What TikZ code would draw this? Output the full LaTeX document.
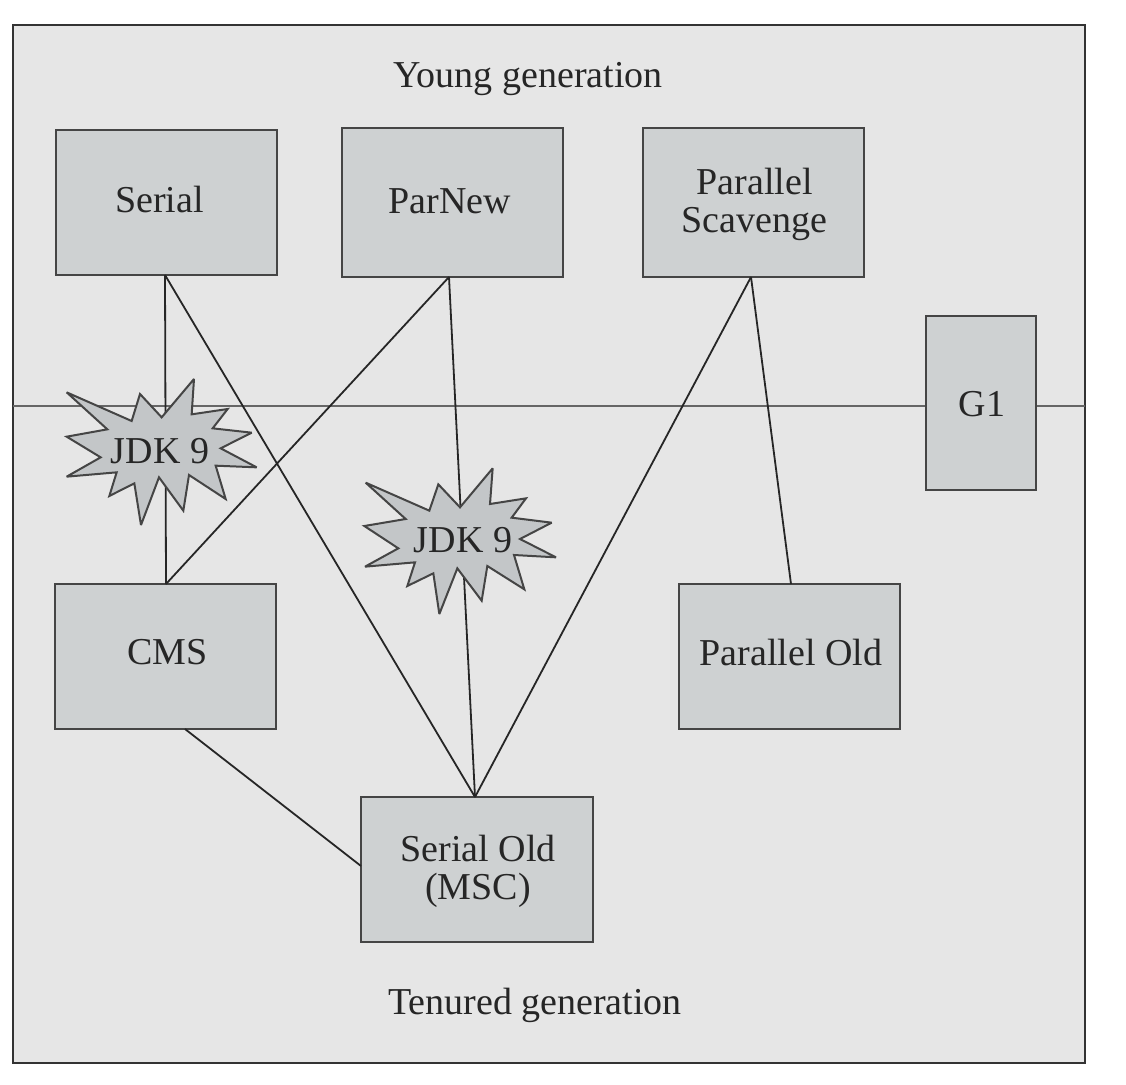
\documentclass[tikz,border=0pt]{standalone}
\usepackage{fontspec}
\setmainfont{Liberation Serif}
\definecolor{panelbg}{HTML}{E6E6E6}
\definecolor{boxfill}{HTML}{CED1D2}
\definecolor{burstfill}{HTML}{C3C6C8}
\definecolor{edgegray}{HTML}{454545}
\definecolor{inkdark}{HTML}{262626}
\tikzset{
  lbl/.style={font=\fontsize{38}{38}\selectfont, text=inkdark, align=center, inner sep=0pt, outer sep=0pt},
  gcbox/.style={draw=edgegray, line width=1.7pt, fill=boxfill, inner sep=0pt, outer sep=0pt},
  link/.style={draw=inkdark, line width=1.8pt},
  divider/.style={draw=black!60, line width=2.4pt},
  burst/.style={draw=edgegray, line width=2pt, fill=burstfill, line join=miter, miter limit=3}
}
\begin{document}
\begin{tikzpicture}[x=1pt,y=-1pt]
\useasboundingbox (0,0) rectangle (1126,1084);
\fill[white] (0,0) rectangle (1126,1084);
\node[draw=black!80, line width=1.4pt, fill=panelbg, minimum width=1072pt, minimum height=1038pt, inner sep=0pt, outer sep=0pt] (panel) at (549,544) {};
\coordinate (divL) at (13,406);
\coordinate (divR) at (1085,406);
\draw[divider] (divL) -- (divR);

\node[gcbox, minimum width=221pt, minimum height=145pt, label={[lbl,xshift=-7pt,yshift=3pt]center:Serial}] (serial) at (166.5,202.5) {};
\node[gcbox, minimum width=221pt, minimum height=149pt, label={[lbl,xshift=-2.5pt,yshift=1pt]center:ParNew}] (parnew) at (452.5,202.5) {};
\node[gcbox, minimum width=221pt, minimum height=149pt, label={[lbl,xshift=1pt,yshift=-2pt]center:{Parallel\\Scavenge}}] (scav) at (753.5,202.5) {};
\node[gcbox, minimum width=110pt, minimum height=174pt, label={[lbl,xshift=1pt,yshift=-1pt]center:G1}] (gone) at (981,403) {};
\node[gcbox, minimum width=221pt, minimum height=145pt, label={[lbl,xshift=2pt,yshift=4pt]center:CMS}] (cms) at (165.5,656.5) {};
\node[gcbox, minimum width=221pt, minimum height=145pt, label={[lbl,xshift=1.5pt,yshift=4pt]center:Parallel Old}] (parold) at (789.5,656.5) {};
\node[gcbox, minimum width=232pt, minimum height=145pt, label={[lbl,xshift=1pt,yshift=-2pt]center:{Serial Old\\(MSC)}}] (serold) at (477,869.5) {};

\draw[link] ([xshift=-1.5pt]serial.south) -- ([xshift=0.5pt]cms.north);
\draw[link] ([xshift=-1.5pt]serial.south) -- ([xshift=-2pt]serold.north);
\draw[link] ([xshift=-3.5pt]parnew.south) -- ([xshift=0.5pt]cms.north);
\draw[link] ([xshift=-3.5pt]parnew.south) -- ([xshift=-2pt]serold.north);
\draw[link] ([xshift=-2.5pt]scav.south) -- ([xshift=-2pt]serold.north);
\draw[link] ([xshift=-2.5pt]scav.south) -- ([xshift=1.5pt]parold.north);
\draw[link] ([xshift=19.5pt]cms.south) -- ([yshift=3.5pt]serold.west);

\begin{scope}[shift={(50,360)},x=0.33333pt,y=-0.33333pt]
\path[burst] (50,97)--(245,183)--(270,102)--(335,172)--(432,57)--(425,163)--(533,147)--(488,205)--(605,218)--(512,265)--(620,322)--(497,317)--(527,417)--(417,345)--(400,452)--(327,352)--(273,495)--(253,370)--(178,408)--(200,337)--(50,350)--(152,292)--(50,230)--(172,208)--cycle;
\end{scope}
\begin{scope}[shift={(350,455)},x=0.33333pt,y=-0.33333pt]
\path[burst] (47,83)--(238,167)--(265,88)--(330,157)--(428,40)--(420,147)--(528,130)--(485,188)--(605,203)--(510,252)--(618,307)--(492,300)--(523,403)--(412,333)--(395,437)--(322,340)--(268,477)--(250,355)--(172,393)--(195,322)--(45,335)--(145,280)--(43,213)--(167,192)--cycle;
\end{scope}
\node[lbl] (jdkA) at (160,451) {JDK 9};
\node[lbl] (jdkB) at (463,540) {JDK 9};
\node[lbl] (young) at (528,79) {Young generation};
\node[lbl] (tenured) at (535,1005) {Tenured generation};
\end{tikzpicture}
\end{document}
